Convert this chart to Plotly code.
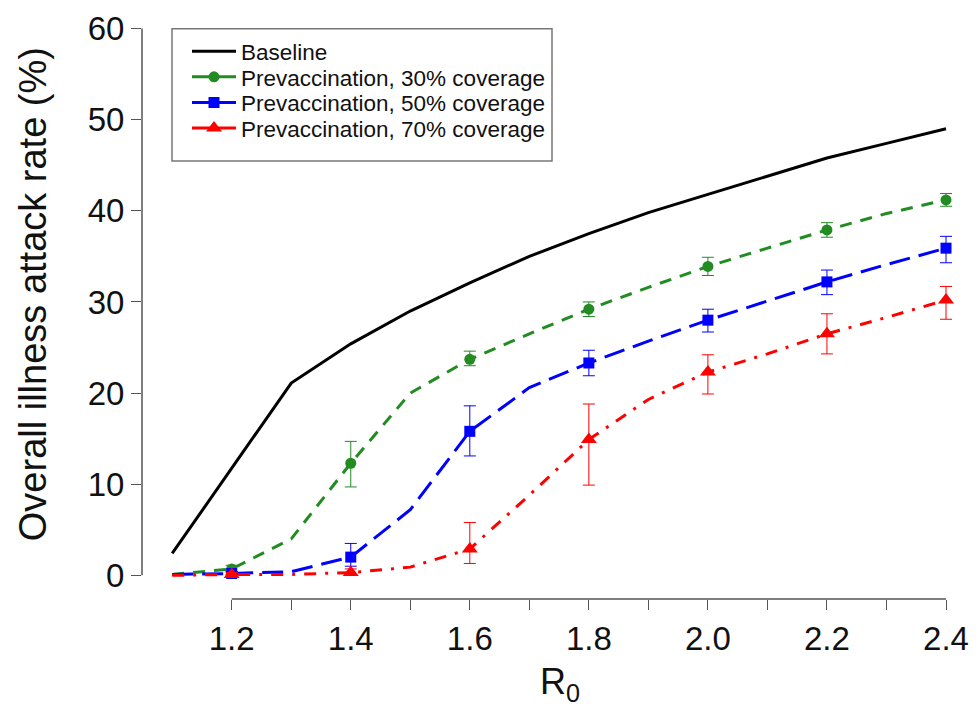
import plotly.graph_objects as go

# ---------------- data ----------------
r0_all = [1.1, 1.2, 1.3, 1.4, 1.5, 1.6, 1.7, 1.8, 1.9, 2.0, 2.1, 2.2, 2.3, 2.4]
baseline = [2.4, 11.7, 21.1, 25.4, 29.0, 32.1, 35.0, 37.5, 39.8, 41.8, 43.8, 45.8, 47.4, 49.0]
cov30 = [0.1, 0.7, 4.0, 12.3, 20.0, 23.7, 26.5, 29.2, 31.6, 33.9, 35.9, 37.9, 39.7, 41.2]
cov50 = [0.1, 0.2, 0.4, 2.0, 7.2, 15.8, 20.6, 23.3, 25.7, 28.0, 30.1, 32.2, 34.1, 35.9]
cov70 = [0.0, 0.1, 0.1, 0.3, 0.9, 2.9, 8.8, 14.9, 19.3, 22.3, 24.3, 26.5, 28.3, 30.2]

r0_marks = [1.2, 1.4, 1.6, 1.8, 2.0, 2.2, 2.4]
m30 = [0.7, 12.3, 23.7, 29.2, 33.9, 37.9, 41.2]
m30_lo = [0.4, 9.7, 23.0, 28.4, 32.9, 37.1, 40.5]
m30_hi = [1.1, 14.7, 24.6, 30.0, 34.9, 38.7, 41.9]
m50 = [0.2, 2.0, 15.8, 23.3, 28.0, 32.2, 35.9]
m50_lo = [0.1, 1.0, 13.1, 21.9, 26.7, 30.8, 34.3]
m50_hi = [0.4, 3.5, 18.6, 24.7, 29.2, 33.5, 37.2]
m70 = [0.1, 0.3, 2.9, 14.9, 22.3, 26.5, 30.2]
m70_lo = [0.0, 0.1, 1.3, 9.9, 19.9, 24.3, 28.1]
m70_hi = [0.3, 0.7, 5.8, 18.8, 24.2, 28.7, 31.7]

names = ["Baseline", "Prevaccination, 30% coverage",
         "Prevaccination, 50% coverage", "Prevaccination, 70% coverage"]

x_major = [1.2, 1.4, 1.6, 1.8, 2.0, 2.2, 2.4]
x_labels = ["1.2", "1.4", "1.6", "1.8", "2.0", "2.2", "2.4"]
x_minor = [1.3, 1.5, 1.7, 1.9, 2.1, 2.3]
y_tickvals = [0, 10, 20, 30, 40, 50, 60]

# ---------------- layout geometry (pixels) ----------------
W, H = 979, 709
L, R, T, B = 142, 965, 10, 599
PW, PH = R - L, B - T


def px(xp):
    return (xp - L) / PW


def py(yp):
    return (B - yp) / PH


GREEN, BLUE, RED = "#228B22", "#0000FF", "#FF0000"
FONT = "Liberation Sans, Arial, sans-serif"
AXC = "#555555"

fig = go.Figure()

# lines
fig.add_trace(go.Scatter(x=r0_all, y=baseline, mode="lines",
                         line=dict(color="black", width=3), showlegend=False))
series = [
    (cov30, m30, m30_lo, m30_hi, GREEN, "12px,9px", "circle", 11),
    (cov50, m50, m50_lo, m50_hi, BLUE, "21px,9px", "square", 11),
    (cov70, m70, m70_lo, m70_hi, RED, "12px,9px,3px,9px", "triangle-up", 14),
]
for line_y, my, lo, hi, col, dash, sym, size in series:
    fig.add_trace(go.Scatter(x=r0_all, y=line_y, mode="lines",
                             line=dict(color=col, width=3, dash=dash),
                             showlegend=False))
    fig.add_trace(go.Scatter(
        x=r0_marks, y=my, mode="markers",
        marker=dict(color=col, symbol=sym, size=size, line=dict(width=0)),
        error_y=dict(type="data", symmetric=False,
                     array=[h - m for h, m in zip(hi, my)],
                     arrayminus=[m - l for m, l in zip(my, lo)],
                     color=col, thickness=1, width=6),
        showlegend=False))

# legend-only traces, one legend per row for exact spacing
legend_ids = ["legend", "legend2", "legend3", "legend4"]
fig.add_trace(go.Scatter(x=[None], y=[None], mode="lines", name=names[0],
                         line=dict(color="black", width=3), legend=legend_ids[0]))
for (line_y, my, lo, hi, col, dash, sym, size), nm, lg in zip(series, names[1:], legend_ids[1:]):
    fig.add_trace(go.Scatter(x=[None], y=[None], mode="lines+markers", name=nm,
                             line=dict(color=col, width=3, dash="solid"),
                             marker=dict(color=col, symbol=sym, size=size),
                             legend=lg))

# R-style detached axis lines
fig.add_shape(type="line", xref="x", yref="paper", x0=1.2, x1=2.4, y0=0, y1=0,
              line=dict(color=AXC, width=1.5))
fig.add_shape(type="line", xref="paper", yref="y", x0=0, x1=0, y0=0, y1=60,
              line=dict(color=AXC, width=1.5))
# legend box
fig.add_shape(type="rect", xref="paper", yref="paper",
              x0=px(172), x1=px(552), y0=py(155), y1=py(21),
              line=dict(color="#777777", width=1.5), fillcolor="rgba(0,0,0,0)")

xr0 = 1.2 - (231.7 - L) / 595.25
xr1 = 2.4 + (R - 946) / 595.25
yr0 = -(B - 575) / 9.238
yr1 = 60 + (20.7 - T) / 9.238

row_centers = [44, 70, 96, 122]
legend_common = dict(xanchor="left", yanchor="middle", bgcolor="rgba(0,0,0,0)",
                     borderwidth=0, itemwidth=44,
                     font=dict(size=22.5, family=FONT, color="#111111"))
legends = {}
for lg, yc in zip(legend_ids, row_centers):
    legends[lg] = dict(x=px(187), y=py(yc), **legend_common)

fig.update_layout(
    width=W, height=H,
    margin=dict(l=L, r=W - R, t=T, b=H - B),
    paper_bgcolor="white", plot_bgcolor="white",
    font=dict(family=FONT, color="#111111"),
    xaxis=dict(range=[xr0, xr1], tickmode="array", tickvals=x_major, ticktext=x_labels,
               ticks="outside", ticklen=10, tickwidth=1.2, tickcolor=AXC,
               minor=dict(tickmode="array", tickvals=x_minor, ticks="outside",
                          ticklen=10, tickwidth=1.2, tickcolor=AXC, showgrid=False),
               showline=False, showgrid=False, zeroline=False,
               tickfont=dict(size=33, family=FONT, color="#111111")),
    yaxis=dict(range=[yr0, yr1], tickvals=y_tickvals,
               ticks="outside", ticklen=10, tickwidth=1.2, tickcolor=AXC,
               showline=False, showgrid=False, zeroline=False,
               tickfont=dict(size=33, family=FONT, color="#111111")),
    annotations=[
        dict(text="Overall illness attack rate (%)", textangle=-90,
             xref="paper", yref="paper", x=px(33), y=py(290),
             xanchor="center", yanchor="middle", showarrow=False,
             font=dict(size=38, family=FONT, color="#111111")),
        dict(text="R<sub>0</sub>", xref="paper", yref="paper",
             x=px(560), y=py(660), xanchor="center", yanchor="top",
             showarrow=False, font=dict(size=36, family=FONT, color="#111111")),
    ],
    **legends,
)

fig.write_html("out.html")
